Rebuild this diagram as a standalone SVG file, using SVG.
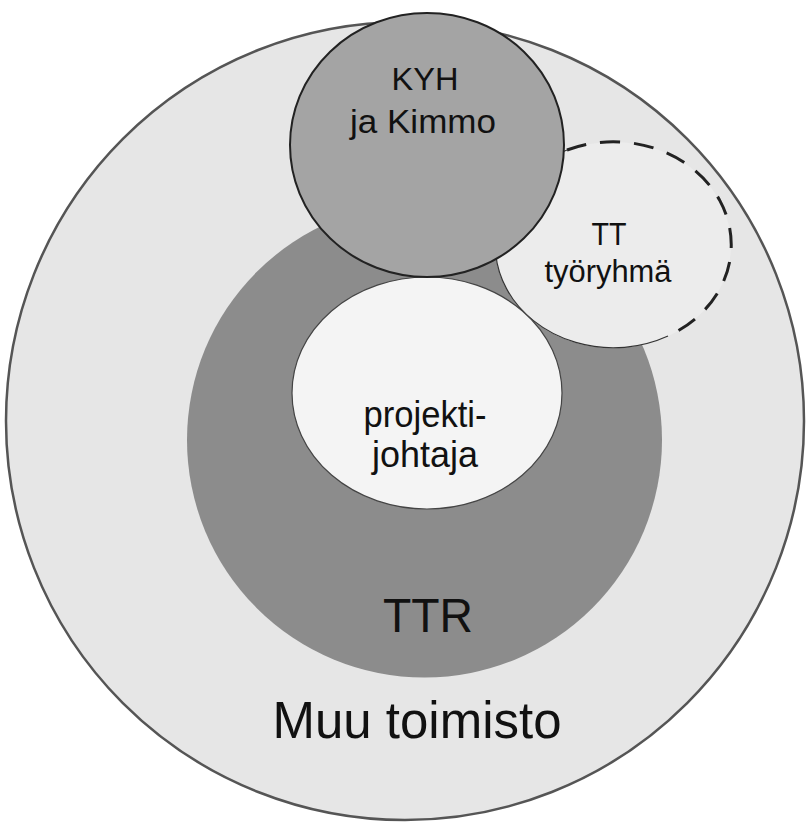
<svg xmlns="http://www.w3.org/2000/svg" width="809" height="823" viewBox="0 0 809 823">
  <style>
    .lbl { font-family: "Liberation Sans", Arial, sans-serif; fill: #111; text-anchor: middle; }
  </style>
  <rect x="0" y="0" width="809" height="823" fill="#ffffff"/>
  <g id="muu-toimisto">
    <circle cx="405" cy="421" r="399" fill="#e6e6e6" stroke="#555" stroke-width="2.5"/>
    <text class="lbl" x="417" y="738" font-size="52" textLength="289" lengthAdjust="spacingAndGlyphs">Muu toimisto</text>
  </g>
  <g id="ttr">
    <circle cx="424.5" cy="440" r="237.5" fill="#8c8c8c"/>
    <text class="lbl" x="428" y="632" font-size="48" textLength="90" lengthAdjust="spacingAndGlyphs">TTR</text>
  </g>
  <g id="tt-tyoryhma">
    <ellipse cx="613" cy="245" rx="118" ry="103" fill="#ececec"/>
    <path d="M 668,336 A 118 103 0 1 1 567,150" fill="none" stroke="#333" stroke-width="1.2"/>
    <path d="M 567,150 A 118 103 0 0 1 668,336" fill="none" stroke="#222" stroke-width="3" stroke-dasharray="20 14"/>
    <text class="lbl" x="609" y="245" font-size="32" textLength="35" lengthAdjust="spacingAndGlyphs">TT</text>
    <text class="lbl" x="608" y="282" font-size="31" textLength="127" lengthAdjust="spacingAndGlyphs">työryhmä</text>
  </g>
  <g id="projektijohtaja">
    <ellipse cx="427" cy="393" rx="135" ry="116" fill="#f4f4f4" stroke="#444" stroke-width="1.2"/>
    <text class="lbl" x="425" y="427" font-size="36" textLength="123" lengthAdjust="spacingAndGlyphs">projekti-</text>
    <text class="lbl" x="425" y="467" font-size="36" textLength="106" lengthAdjust="spacingAndGlyphs">johtaja</text>
  </g>
  <g id="kyh-ja-kimmo">
    <ellipse cx="427" cy="145" rx="137" ry="132" fill="#a4a4a4" stroke="#222" stroke-width="2"/>
    <text class="lbl" x="425" y="90" font-size="31" textLength="67" lengthAdjust="spacingAndGlyphs">KYH</text>
    <text class="lbl" x="423" y="133" font-size="33" textLength="146" lengthAdjust="spacingAndGlyphs">ja Kimmo</text>
  </g>
  <g id="connectors"/>
</svg>
